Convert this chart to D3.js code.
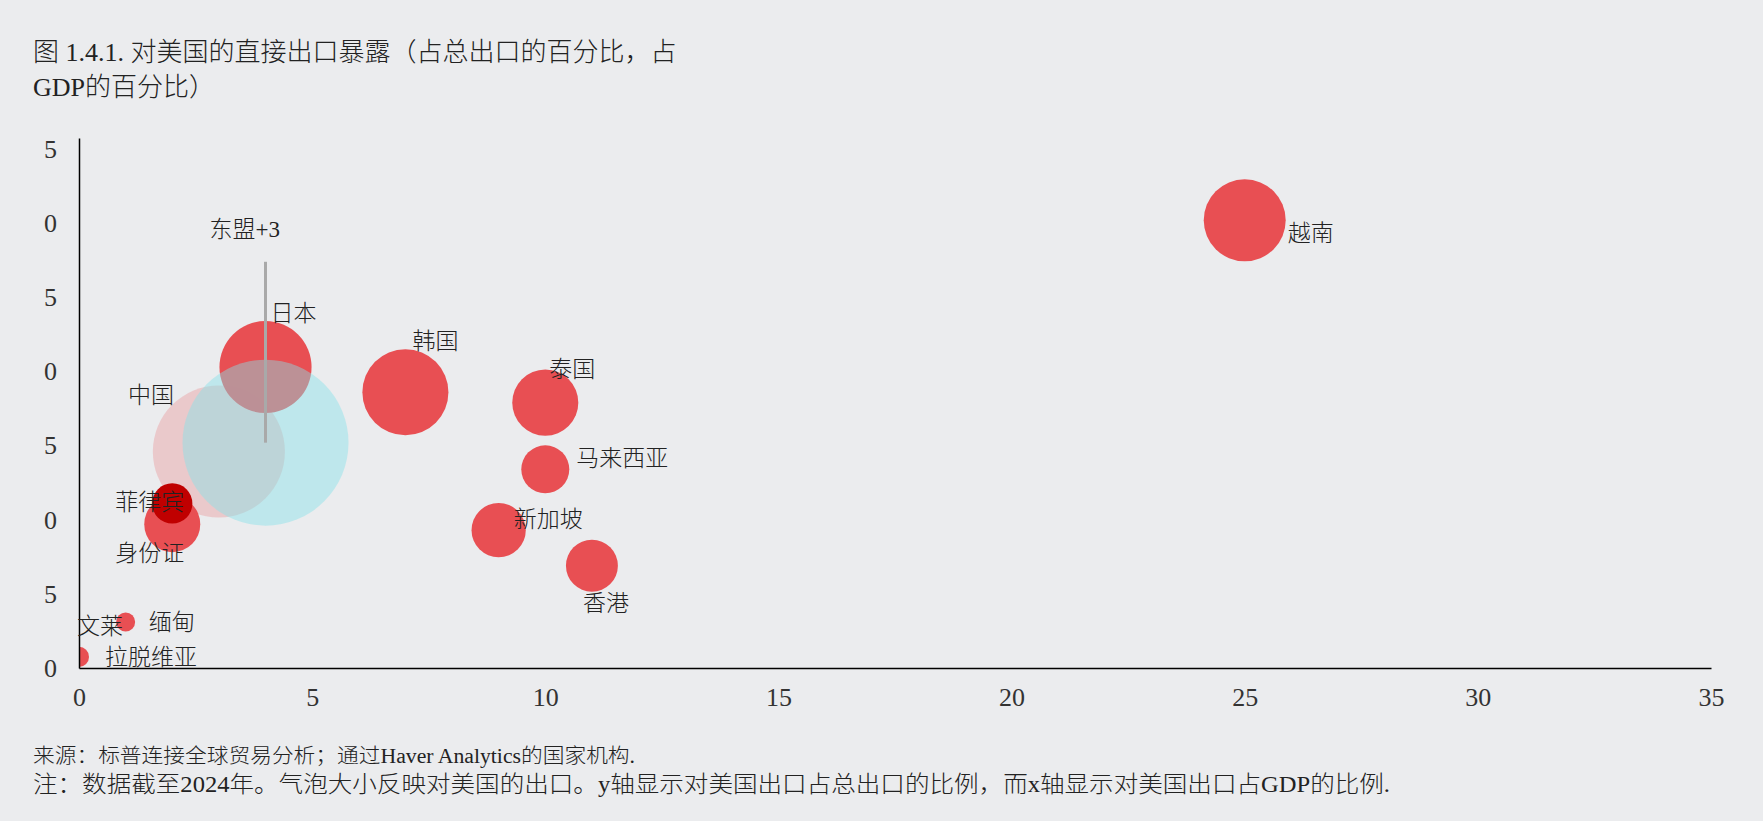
<!DOCTYPE html>
<html>
<head>
<meta charset="utf-8">
<script src="https://cdn.jsdelivr.net/npm/d3@7"></script>
<style>
    html, body { margin: 0; padding: 0; background: #ebecee; }
    svg { display: block; font-family: "Liberation Serif", "Noto Sans CJK SC", serif; }
    .tick line { display: none; }
    .domain { stroke: #000; stroke-width: 1.5; }
</style>
</head>
<body>
<div id="chart"></div>
<script>
(function () {
    "use strict";

    // economies, in drawing order (later ones sit on top)
    const names = ["越南", "日本", "韩国", "泰国", "马来西亚", "新加坡", "香港", "中国", "东盟+3", "身份证", "菲律宾", "缅甸", "文莱", "拉脱维亚"];
    // exports to US, % of GDP (x)
    const gdpShare = [25.0, 4.0, 7.0, 10.0, 10.0, 9.0, 11.0, 3.0, 4.0, 2.0, 2.0, 1.0, 0.0, 0.0];
    // exports to US, % of total exports (y)
    const exportShare = [30.2, 20.3, 18.6, 17.9, 13.4, 9.3, 6.9, 14.6, 15.2, 9.7, 11.1, 3.1, 2.8, 0.75];
    // exports to US, bubble size
    const exportsToUS = [137, 173, 151, 89, 47, 60, 55, 356, 562, 64, 33, 7.4, 0.1, 8.2];
    // vertical bar drawn for ASEAN+3
    const aseanRange = [15.2, 27.4];

    const xTicks = [0, 5, 10, 15, 20, 25, 30, 35];
    const yTicks = [0, 5, 10, 15, 20, 25, 30, 35];

    const titleLines = ["图 1.4.1. 对美国的直接出口暴露（占总出口的百分比，占", "GDP的百分比）"];
    const sourceText = "来源：标普连接全球贸易分析；通过Haver Analytics的国家机构.";
    const noteText = "注：数据截至2024年。气泡大小反映对美国的出口。y轴显示对美国出口占总出口的比例，而x轴显示对美国出口占GDP的比例.";

    // label placement relative to the bubble centre
    const labelOffsets = {
        "越南": [43, 13], "日本": [5, -54], "韩国": [7, -51], "泰国": [4, -33],
        "马来西亚": [31, -11], "新加坡": [15, -11], "香港": [-9, 38], "中国": [-91, -56],
        "东盟+3": [-56, -213], "菲律宾": [-57, -1], "身份证": [-57, 29], "缅甸": [23, 0],
        "文莱": [-2, 0], "拉脱维亚": [26, 1]
    };

    const width = 1763;
    const height = 821;
    const margin = { top: 138, right: 52, bottom: 153, left: 79 };

    const data = names.map((name, i) => ({
        name,
        x: gdpShare[i],
        y: exportShare[i],
        size: exportsToUS[i]
    }));

    function fillFor(name) {
        if (name === "东盟+3") return "rgb(135,226,232)";
        if (name === "菲律宾") return "#c00000";
        return "#e84f53";
    }

    function opacityFor(name) {
        if (name === "东盟+3") return 0.45;
        if (name === "中国") return 0.22;
        return 1;
    }

    const svg = d3.select("#chart").append("svg")
        .attr("width", width)
        .attr("height", height);

    svg.append("rect")
        .attr("width", width)
        .attr("height", height)
        .attr("fill", "#ebecee");

    const plotW = width - margin.left - margin.right;
    const plotH = height - margin.top - margin.bottom;

    const xScale = d3.scaleLinear().domain([0, 35]).range([margin.left, margin.left + plotW]);
    const yScale = d3.scaleLinear().domain([0, 35.75]).range([margin.top + plotH, margin.top]);
    const rScale = d3.scaleSqrt().domain([0, 562]).range([0, 83]);

    const defs = svg.append("defs");
    defs.append("clipPath")
        .attr("id", "plot-clip")
        .append("rect")
        .attr("x", margin.left)
        .attr("y", 0)
        .attr("width", plotW + 2)
        .attr("height", margin.top + plotH);

    // the y labels are cut at the left edge, as in the source
    defs.append("clipPath")
        .attr("id", "ylab-clip")
        .append("rect")
        .attr("x", 44)
        .attr("y", 0)
        .attr("width", margin.left - 44 + 2)
        .attr("height", height);

    // title
    svg.append("g")
        .selectAll("text")
        .data(titleLines)
        .join("text")
        .attr("x", 33)
        .attr("y", (d, i) => 52 + i * 35)
        .attr("dominant-baseline", "central")
        .attr("font-size", 26)
        .attr("font-weight", 300)
        .attr("fill", "#222")
        .text(d => d);

    // bubbles
    svg.append("g")
        .attr("clip-path", "url(#plot-clip)")
        .selectAll("circle")
        .data(data)
        .join("circle")
        .attr("cx", d => xScale(d.x))
        .attr("cy", d => yScale(d.y))
        .attr("r", d => rScale(d.size))
        .attr("fill", d => fillFor(d.name))
        .attr("fill-opacity", d => opacityFor(d.name));

    // ASEAN+3 bar
    svg.append("line")
        .attr("x1", xScale(4.0))
        .attr("x2", xScale(4.0))
        .attr("y1", yScale(aseanRange[0]))
        .attr("y2", yScale(aseanRange[1]))
        .attr("stroke", "#a9a9a9")
        .attr("stroke-width", 3);

    // axes
    const xAxis = d3.axisBottom(xScale)
        .tickValues(xTicks)
        .tickSize(0)
        .tickSizeOuter(0)
        .tickPadding(24);

    const yAxis = d3.axisLeft(yScale)
        .tickValues(yTicks)
        .tickSize(0)
        .tickSizeOuter(0)
        .tickPadding(22);

    const gx = svg.append("g")
        .attr("transform", `translate(0,${margin.top + plotH})`)
        .call(xAxis);

    const gy = svg.append("g")
        .attr("clip-path", "url(#ylab-clip)")
        .append("g")
        .attr("transform", `translate(${margin.left},0)`)
        .call(yAxis);

    svg.selectAll(".tick text")
        .attr("font-family", "Liberation Serif, serif")
        .attr("font-size", 26)
        .attr("fill", "#333");

    gx.selectAll(".tick text").attr("dy", "0.55em");

    // labels
    svg.append("g")
        .selectAll("text")
        .data(data)
        .join("text")
        .attr("x", d => xScale(d.x) + labelOffsets[d.name][0])
        .attr("y", d => yScale(d.y) + labelOffsets[d.name][1])
        .attr("dominant-baseline", "central")
        .attr("font-size", 23)
        .attr("font-weight", 300)
        .attr("fill", "#222")
        .text(d => d.name);

    // footer
    svg.append("text")
        .attr("x", 33)
        .attr("y", 756)
        .attr("dominant-baseline", "central")
        .attr("font-size", 20)
        .attr("font-weight", 300)
        .attr("fill", "#222")
        .attr("textLength", 602)
        .attr("lengthAdjust", "spacingAndGlyphs")
        .text(sourceText);

    svg.append("text")
        .attr("x", 33)
        .attr("y", 784)
        .attr("dominant-baseline", "central")
        .attr("font-size", 23)
        .attr("font-weight", 300)
        .attr("fill", "#222")
        .attr("textLength", 1357)
        .attr("lengthAdjust", "spacingAndGlyphs")
        .text(noteText);
}());
</script>
</body>
</html>
